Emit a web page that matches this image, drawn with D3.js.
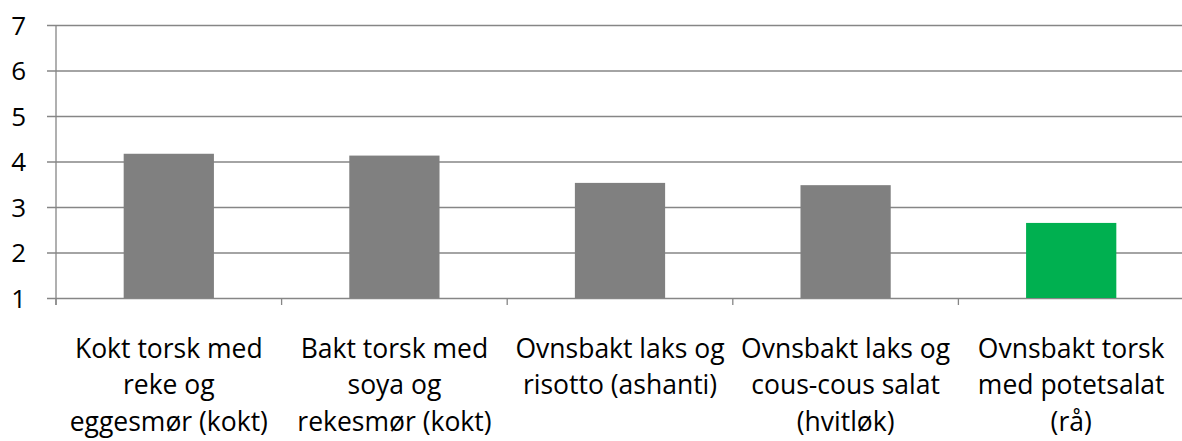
<!DOCTYPE html>
<html>
<head>
<meta charset="utf-8">
<script src="https://cdn.jsdelivr.net/npm/d3@7"></script>
<style>
  body { margin: 0; background: #fff; }
  svg { display: block; font-family: "Open Sans", sans-serif; }
</style>
</head>
<body>
<div id="chart"></div>
<script>
// categories, each split into the lines used on the axis
const categories = [
    ["Kokt torsk med", "reke og", "eggesmør (kokt)"],
    ["Bakt torsk med", "soya og", "rekesmør (kokt)"],
    ["Ovnsbakt laks og", "risotto (ashanti)"],
    ["Ovnsbakt laks og", "cous-cous salat", "(hvitløk)"],
    ["Ovnsbakt torsk", "med potetsalat", "(rå)"]
];
const values = [4.17, 4.13, 3.53, 3.48, 2.65];
const barColors = ["#808080", "#808080", "#808080", "#808080", "#00b050"];
const yTicks = [1, 2, 3, 4, 5, 6, 7];

const layout = {
    width: 1182,
    height: 441,
    margin: { top: 25, right: -2, bottom: 143, left: 56 }
};
const innerW = layout.width - layout.margin.left - layout.margin.right;
const innerH = layout.height - layout.margin.top - layout.margin.bottom;

const svg = d3.select("#chart").append("svg")
    .attr("width", layout.width)
    .attr("height", layout.height);

const g = svg.append("g")
    .attr("transform", `translate(${layout.margin.left},${layout.margin.top})`);

const keys = categories.map((c, i) => i);
const xScale = d3.scaleBand().domain(keys).range([0, innerW]).paddingInner(0.6).paddingOuter(0.3);
const yScale = d3.scaleLinear().domain([1, 7]).range([innerH, 0]);

const gridColor = "#868686";
const fontSize = 26.5;

// horizontal grid + y axis labels
const yAxis = d3.axisLeft(yScale).tickValues(yTicks).tickSize(-innerW).tickPadding(0).tickFormat(d3.format("d"));
g.append("g")
    .call(yAxis)
    .call(ax => {
        ax.select(".domain").remove();
        ax.selectAll(".tick line").attr("stroke", gridColor).attr("stroke-width", 1.3).attr("x1", -9);
        ax.selectAll(".tick text")
            .attr("x", -30)
            .attr("dy", "0.36em")
            .attr("fill", "#000")
            .attr("font-size", 26)
            .attr("font-family", "Open Sans, sans-serif");
    });

// vertical axis line
g.append("line")
    .attr("x1", 0).attr("x2", 0)
    .attr("y1", 0).attr("y2", innerH + 7)
    .attr("stroke", gridColor).attr("stroke-width", 1.3);

// bars
g.selectAll("rect.bar")
    .data(values)
    .join("rect")
    .attr("class", "bar")
    .attr("x", (d, i) => xScale(i))
    .attr("width", xScale.bandwidth())
    .attr("y", d => yScale(d))
    .attr("height", d => yScale(1) - yScale(d))
    .attr("fill", (d, i) => barColors[i]);

// category boundary ticks
const bounds = d3.range(categories.length + 1).map(i => i * innerW / categories.length);
g.selectAll("line.ctick")
    .data(bounds)
    .join("line")
    .attr("class", "ctick")
    .attr("x1", d => d).attr("x2", d => d)
    .attr("y1", innerH).attr("y2", innerH + 7)
    .attr("stroke", gridColor).attr("stroke-width", 1.3);

// category labels
const labels = g.selectAll("text.cat")
    .data(categories)
    .join("text")
    .attr("class", "cat")
    .attr("text-anchor", "middle")
    .attr("font-size", fontSize)
    .attr("fill", "#000")
    .attr("transform", (d, i) => `translate(${xScale(i) + xScale.bandwidth() / 2},${innerH + 60})`);

labels.selectAll("tspan")
    .data(d => d)
    .join("tspan")
    .attr("x", 0)
    .attr("y", (d, j) => j * 36.3)
    .text(d => d);
</script>
</body>
</html>
